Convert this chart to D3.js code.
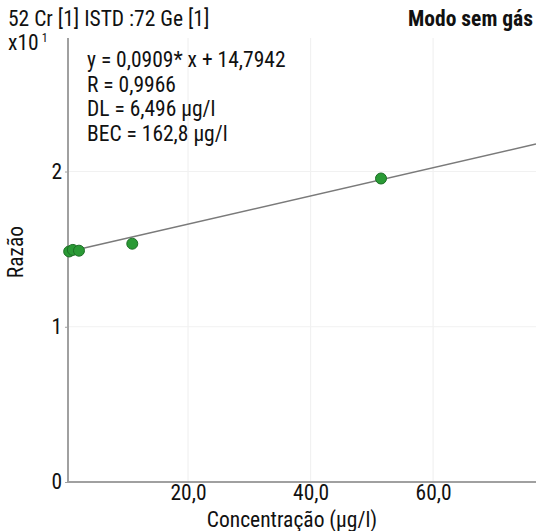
<!DOCTYPE html>
<html><head><meta charset="utf-8">
<script src="https://cdn.jsdelivr.net/npm/d3@7"></script>
<style>
body{margin:0;background:#fff;}
text{font-family:"Liberation Sans Narrow","Roboto Condensed","DejaVu Sans Condensed",sans-serif;fill:#111;}
</style></head><body>
<svg id="c" width="536" height="531"></svg>
<script>
const concentrations = [0.6, 1.2, 2.2, 10.9, 51.5];
const ratios = [1.485, 1.495, 1.49, 1.535, 1.955];
const slope = 0.0909, intercept = 14.7942, scaleFactor = 10;
const xTicks = [20, 40, 60];
const xTickLabels = ["20,0", "40,0", "60,0"];
const yTicks = [0, 1, 2];
const yTickLabels = ["0", "1", "2"];
const infoLines = ["y = 0,0909* x + 14,7942", "R = 0,9966", "DL = 6,496 µg/l", "BEC = 162,8 µg/l"];

const FS = 21.5;
const AX = 68; // y-axis line position
const svg = d3.select("#c");
const x = d3.scaleLinear().domain([0, 76.8]).range([65.5, 536]);
const y = d3.scaleLinear().domain([0, 2.86]).range([482, 38]);

// gridlines
svg.append("g").selectAll("line.v").data(xTicks).join("line")
  .attr("x1", d => x(d)).attr("x2", d => x(d)).attr("y1", 38).attr("y2", 482)
  .attr("stroke", "#f1f1f1").attr("stroke-width", 1.2);
svg.append("g").selectAll("line.h").data(yTicks.filter(d => d > 0)).join("line")
  .attr("x1", AX).attr("x2", 536).attr("y1", d => y(d)).attr("y2", d => y(d))
  .attr("stroke", "#f1f1f1").attr("stroke-width", 1.2);

// axes
const xAxis = d3.axisBottom(x).tickValues(xTicks).tickFormat((d, i) => xTickLabels[i]).tickSize(0).tickPadding(3);
const gx = svg.append("g").attr("transform", "translate(0,482)").call(xAxis);
gx.select(".domain").attr("stroke", "#a0a0a0").attr("stroke-width", 2).attr("d", `M${AX},0H536`);
gx.selectAll("text").attr("font-size", FS).attr("fill", "#111");

const yAxis = d3.axisLeft(y).tickValues(yTicks).tickFormat((d, i) => yTickLabels[i]).tickSize(3).tickPadding(3);
const gy = svg.append("g").attr("transform", `translate(${AX},0)`).call(yAxis);
gy.select(".domain").attr("stroke", "#a0a0a0").attr("stroke-width", 2).attr("d", "M0,38V482");
gy.selectAll(".tick line").attr("stroke", "#a0a0a0");
gy.selectAll("text").attr("font-size", FS).attr("fill", "#111");

// regression line
const xs = [0.4, 76.8];
svg.append("path")
  .attr("d", d3.line().x(d => x(d)).y(d => y((slope * d + intercept) / scaleFactor))(xs))
  .attr("stroke", "#7a7a7a").attr("stroke-width", 1.5).attr("fill", "none");

// points
svg.append("g").selectAll("circle").data(concentrations).join("circle")
  .attr("cx", d => x(d)).attr("cy", (d, i) => y(ratios[i])).attr("r", 5.5)
  .attr("fill", "#2a9a35").attr("stroke", "#1d6e26").attr("stroke-width", 1);

// titles
svg.append("text").attr("x", 8).attr("y", 26).attr("font-size", FS).text("52 Cr [1] ISTD :72 Ge [1]");
const xt = svg.append("text").attr("x", 8).attr("y", 50).attr("font-size", FS).text("x10");
xt.append("tspan").attr("font-size", 12).attr("dy", -8).attr("dx", 3).text("1");
svg.append("text").attr("x", 533).attr("y", 26).attr("font-size", FS).attr("font-weight", "bold").attr("text-anchor", "end").text("Modo sem gás");

svg.append("g").selectAll("text").data(infoLines).join("text")
  .attr("x", 87).attr("y", (d, i) => 67 + i * 24.5).attr("font-size", FS).text(d => d);

svg.append("text").attr("transform", "translate(23,252) rotate(-90)").attr("text-anchor", "middle").attr("font-size", FS).text("Razão");
svg.append("text").attr("x", 292).attr("y", 527).attr("text-anchor", "middle").attr("font-size", FS).text("Concentração (µg/l)");
</script></body></html>
